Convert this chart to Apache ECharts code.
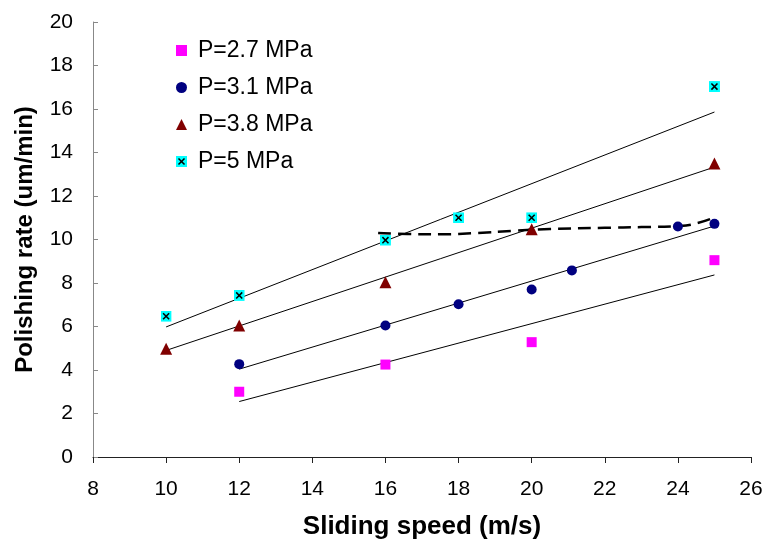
<!DOCTYPE html>
<html>
<head>
<meta charset="utf-8">
<script src="https://cdn.jsdelivr.net/npm/echarts@6/dist/echarts.min.js"></script>
<style>html,body{margin:0;padding:0;background:#fff}#c{width:769px;height:545px}</style>
</head>
<body>
<div id="c"></div>
<script>
// Data
const xTicks = [8, 26, 2];          // min, max, interval
const yTicks = [0, 20, 2];
const seriesNames = ['P=2.7 MPa', 'P=3.1 MPa', 'P=3.8 MPa', 'P=5 MPa'];
const p27 = [[12, 3.0], [16, 4.25], [20, 5.28], [25, 9.05]];
const p31 = [[12, 4.27], [16, 6.05], [18, 7.02], [20, 7.7], [21.1, 8.58], [24, 10.6], [25, 10.72]];
const p38 = [[10, 4.98], [12, 6.05], [16, 8.03], [20, 10.47], [25, 13.5]];
const p5  = [[10, 6.47], [12, 7.43], [16, 9.97], [18, 11.0], [20, 11.0], [25, 17.03]];
// trend line end points (as drawn in the picture)
const trend27 = [[12, 2.55], [25, 8.37]];
const trend31 = [[12, 4.04], [25, 10.62]];
const trend38 = [[10, 4.9], [25, 13.33]];
const trend5  = [[10, 5.98], [25, 15.86]];
// dashed curve
const dashCurve = [[15.8, 10.3], [16.6, 10.25], [17.5, 10.24], [18.5, 10.3], [19.5, 10.4], [20.5, 10.48], [22, 10.54], [23, 10.57], [24, 10.62], [24.5, 10.74], [25.05, 11.05]];

const xName = 'Sliding speed (m/s)';
const yName = 'Polishing rate (um/min)';

const cyanSvg = "<svg xmlns='http://www.w3.org/2000/svg' width='20' height='20'><rect width='20' height='20' fill='#00FFFF'/><path d='M4.5 4.5L15.5 15.5M15.5 4.5L4.5 15.5' stroke='#000' stroke-width='2.8'/></svg>";
const cyanSymbol = 'image://data:image/svg+xml;charset=utf-8,' + encodeURIComponent(cyanSvg);

const FONT = 'Liberation Sans, Arial, sans-serif';

function trend(data) {
  return { type: 'line', data: data, symbol: 'none', silent: true, z: 1,
    lineStyle: { color: '#000', width: 1 } };
}

const chart = echarts.init(document.getElementById('c'), null, { renderer: 'canvas' });
chart.setOption({
  animation: false,
  backgroundColor: '#fff',
  textStyle: { fontFamily: FONT },
  grid: { left: 93, right: 18, top: 22, bottom: 87, containLabel: false },
  legend: {
    orient: 'vertical', left: 171, top: 34,
    itemWidth: 11, itemHeight: 11, itemGap: 14,
    textStyle: { fontSize: 23, color: '#000', fontFamily: FONT, padding: [0, 0, 0, 6] },
    data: [
      { name: seriesNames[0], icon: 'rect' },
      { name: seriesNames[1], icon: 'circle' },
      { name: seriesNames[2], icon: 'triangle' },
      { name: seriesNames[3], icon: cyanSymbol }
    ]
  },
  xAxis: {
    type: 'value', min: xTicks[0], max: xTicks[1], interval: xTicks[2],
    name: xName, nameLocation: 'middle', nameGap: 57,
    nameTextStyle: { fontSize: 26, fontWeight: 'bold', color: '#000', fontFamily: FONT },
    axisLine: { lineStyle: { color: '#222', width: 1 } },
    axisTick: { inside: false, length: 6, lineStyle: { color: '#222' } },
    axisLabel: { fontSize: 21, color: '#000', margin: 22, fontFamily: FONT },
    splitLine: { show: false }
  },
  yAxis: {
    type: 'value', min: yTicks[0], max: yTicks[1], interval: yTicks[2],
    name: yName, nameLocation: 'middle', nameGap: 56, nameRotate: 90,
    nameTextStyle: { fontSize: 24, fontWeight: 'bold', color: '#000', fontFamily: FONT },
    axisLine: { lineStyle: { color: '#888', width: 1 } },
    axisTick: { inside: true, length: 5, lineStyle: { color: '#888' } },
    axisLabel: { fontSize: 21, color: '#000', margin: 20, fontFamily: FONT },
    splitLine: { show: false }
  },
  series: [
    trend(trend27), trend(trend31), trend(trend38), trend(trend5),
    { type: 'line', data: dashCurve, symbol: 'none', smooth: true, silent: true, z: 2,
      lineStyle: { color: '#000', width: 2.5, type: [13, 7] } },
    { name: seriesNames[0], type: 'scatter', data: p27, symbol: 'rect', symbolSize: 10, z: 3,
      itemStyle: { color: '#FF00FF', opacity: 1 } },
    { name: seriesNames[1], type: 'scatter', data: p31, symbol: 'circle', symbolSize: 10, z: 3,
      itemStyle: { color: '#000080', opacity: 1 } },
    { name: seriesNames[2], type: 'scatter', data: p38, symbol: 'triangle', symbolSize: 12, z: 3,
      itemStyle: { color: '#800000', opacity: 1 } },
    { name: seriesNames[3], type: 'scatter', data: p5, symbol: cyanSymbol, symbolSize: 11, z: 3,
      itemStyle: { opacity: 1 } }
  ]
});
</script>
</body>
</html>
